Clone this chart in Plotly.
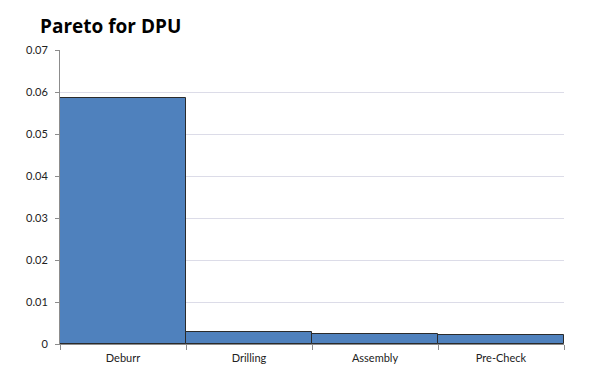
import plotly.graph_objects as go

categories = ["Deburr", "Drilling", "Assembly", "Pre-Check"]
dpu_values = [0.0586, 0.0029, 0.0023, 0.0021]
y_tick_values = [0, 0.01, 0.02, 0.03, 0.04, 0.05, 0.06, 0.07]
y_tick_labels = ["0", "0.01", "0.02", "0.03", "0.04", "0.05", "0.06", "0.07"]

fig = go.Figure(go.Bar(
    x=categories,
    y=dpu_values,
    marker=dict(color="#4F81BD", line=dict(color="#2B2B2B", width=1)),
))

fig.update_layout(
    width=597, height=377,
    margin=dict(l=60, r=33, t=50, b=33),
    paper_bgcolor="white", plot_bgcolor="white",
    bargap=0,
    showlegend=False,
    font=dict(family="Lato, Open Sans, sans-serif", size=11, color="#222222"),
    title=dict(text="<b>Pareto for DPU</b>", x=40/597, xref="container", xanchor="left",
               y=1-26/377, yref="container", yanchor="middle",
               font=dict(family="Open Sans, sans-serif", size=19, color="black")),
)
fig.update_yaxes(
    range=[0, 0.07], tickvals=y_tick_values, ticktext=y_tick_labels,
    showgrid=True, gridcolor="#DCDCE8", gridwidth=1,
    showline=True, linecolor="#8C8C8C", linewidth=1,
    ticks="outside", ticklen=4, tickcolor="#8C8C8C",
    zeroline=False, tickfont=dict(size=11), ticklabelstandoff=5,
)
fig.update_xaxes(
    showline=True, linecolor="#8C8C8C", linewidth=1,
    ticks="outside", ticklen=5, tickcolor="#8C8C8C", tickson="boundaries",
    tickfont=dict(size=11), ticklabelstandoff=4,
)

fig.write_html("out.html", config={"displayModeBar": False},
               post_script="document.body.style.margin='0';")
